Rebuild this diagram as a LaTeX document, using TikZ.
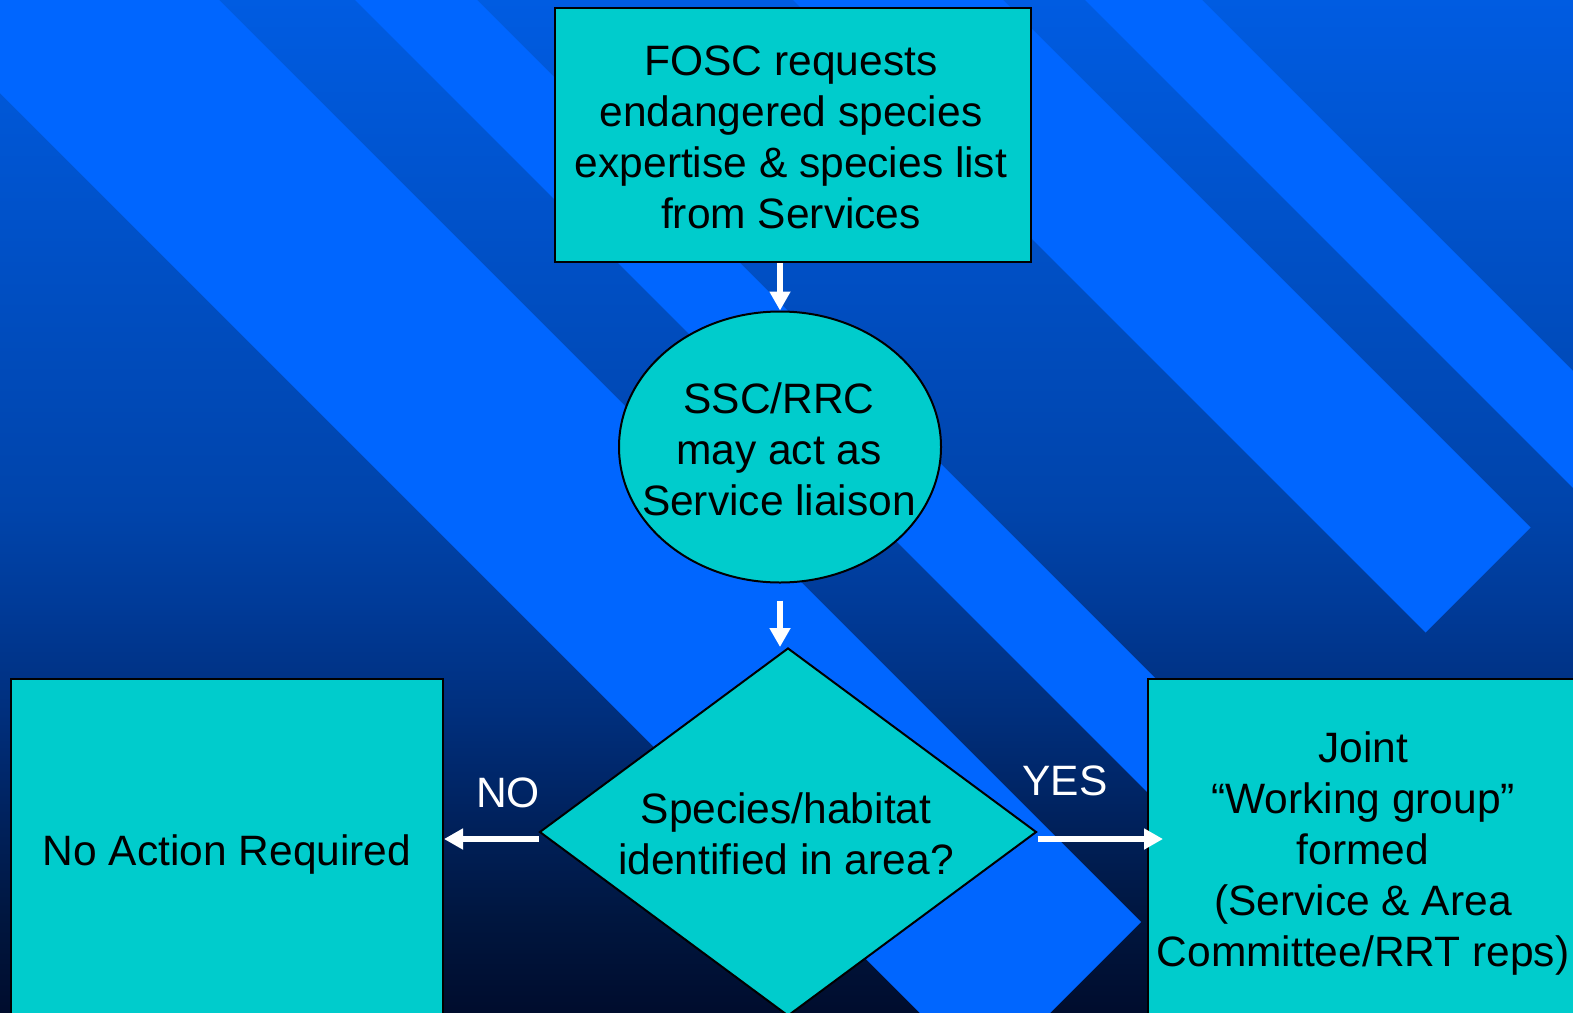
\documentclass[tikz,border=0pt]{standalone}
\usepackage{fontspec}
\setmainfont{Liberation Sans}
\usetikzlibrary{shapes.geometric,arrows.meta,calc}
\definecolor{stripecol}{HTML}{0066FF}
\definecolor{tealfill}{HTML}{00CCCC}
\definecolor{bga}{HTML}{000C2C}
\definecolor{bgb}{HTML}{00163F}
\definecolor{bgc}{HTML}{00225E}
\definecolor{bgd}{HTML}{002F7D}
\definecolor{bge}{HTML}{003A97}
\definecolor{bgf}{HTML}{0044AB}
\definecolor{bgg}{HTML}{0050C6}
\definecolor{bgh}{HTML}{005CE2}
% TikZ maps the 25bp..75bp part of a shading onto the path
\pgfdeclareverticalshading{bgshade}{100bp}{color(0bp)=(bga); color(25bp)=(bga); color(30bp)=(bgb); color(35bp)=(bgc); color(40bp)=(bgd); color(45bp)=(bge); color(50bp)=(bgf); color(62.5bp)=(bgg); color(75bp)=(bgh); color(100bp)=(bgh)}
\begin{document}
\begin{tikzpicture}[x=1pt,y=-1pt,
  every node/.style={font=\fontsize{42.5pt}{51pt}\selectfont, align=center},
  shapebox/.style={draw=black, line width=2pt, fill=tealfill, inner sep=0pt},
  shapetext/.style={inner sep=0pt, text=black},
  flowarrow/.style={draw=white, line width=6pt, -{Triangle[length=19pt,width=20pt]}},
  lbl/.style={text=white, inner sep=0pt}]
\useasboundingbox (0,0) rectangle (1573,1012);
\clip (0,0) rectangle (1573,1012);
% background gradient
\shade[shading=bgshade] (-5,-5) rectangle (1580,1020);
% diagonal stripes
\fill[stripecol] (-100,-319) -- (1141,922) -- (985,1078) -- (-400,-307) -- cycle;
\fill[stripecol] (400,-77) -- (1700,1223) -- (1700,1345) -- (300,-55) -- cycle;
\fill[stripecol] (950,-53) -- (1530.5,527.5) -- (1425.5,632.5) -- (740,-53) -- cycle;
\fill[stripecol] (1150,-52) -- (1700,498) -- (1700,615) -- (1033,-52) -- cycle;
% shapes
\node[shapebox, rectangle, minimum width=476pt, minimum height=254pt] (fosc) at (793,135) {};
\node[shapebox, ellipse, minimum width=322pt, minimum height=271pt] (liaison) at (780,447) {};
\node[shapebox, diamond, minimum width=497pt, minimum height=368pt] (decide) at (788,832) {};
\node[shapebox, rectangle, minimum width=432pt, minimum height=336pt] (noact) at (227,847) {};
\node[shapebox, rectangle, minimum width=432pt, minimum height=336pt] (joint) at (1364,847) {};
% texts
\node[shapetext] (fosctext) at (791,137.5)
  {FOSC requests\\ endangered species\\ expertise \& species list\\ from Services};
\node[shapetext] (liaisontext) at (779,449)
  {SSC/RRC\\ may act as\\ Service liaison};
\node[shapetext] (decidetext) at (786,834)
  {Species/habitat\\ identified in area?};
\node[shapetext] (noacttext) at (227,854) {No Action Required};
\node[shapetext] (jointtext) at (1363,853)
  {Joint\\ “Working group”\\ formed\\ (Service \& Area\\ Committee/RRT reps)};
\node[lbl] (nolbl) at (508,793) {NO};
\node[lbl] (yeslbl) at (1065,781) {YES};
% connectors
\draw[flowarrow] (liaison.north |- fosc.south) -- (liaison.north);
\draw[flowarrow] ($(liaison.south)+(0,17)$) -- (liaison.south |- decide.north);
\draw[flowarrow] ($(decide.west)+(0,7)$) -- ($(noact.east |- decide.west)+(0,7)$);
\draw[flowarrow] ($(decide.east)+(0,7)$) -- ($(joint.west |- decide.east)+(16,7)$);
\end{tikzpicture}
\end{document}
